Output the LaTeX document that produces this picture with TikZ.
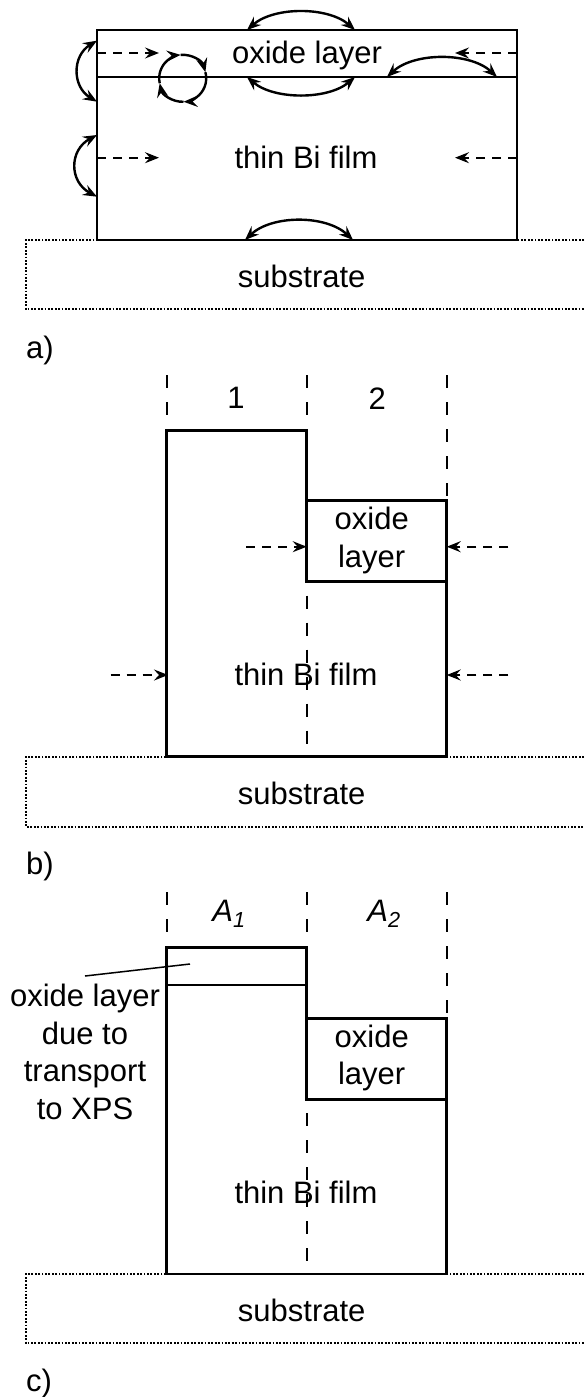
\documentclass[tikz,border=0pt]{standalone}
\usepackage{fontspec}
\setmainfont{Liberation Sans}
\usepackage{tikz}
\usetikzlibrary{calc,arrows.meta}
\definecolor{biink}{HTML}{000000}
\tikzset{
  film/.style={draw=biink, line width=2.6pt},
  guide/.style={draw=biink, line width=2.3pt, dash pattern=on 13pt off 14pt},
  flux/.style={draw=biink, line width=2pt, dash pattern=on 9pt off 7pt,
    -{Stealth[length=14pt, width=11pt, inset=5pt]}},
  hop/.style={draw=biink, line width=2.4pt,
    {Stealth[length=14pt, width=11pt, inset=5pt]}-{Stealth[length=14pt, width=11pt, inset=5pt]}},
  whirl/.style={draw=biink, line width=2.4pt, -{Stealth[length=14pt, width=11pt, inset=5pt]}},
  lbl/.style={text=biink, inner sep=0pt, align=center,
    font=\fontsize{31}{37.7}\selectfont}}
\newcommand{\bisubstrate}[3]{%
  \draw[biink, line width=1.8pt, dash pattern=on 1.8pt off 1.6pt]
    (584,#1) -- (26,#1) -- (26,#2) -- (584,#2);
  \node[lbl] (#3) at (301.7,{(#1+#2)/2+2}) {substrate};}

\begin{document}
\begin{tikzpicture}[x=1pt, y=-1pt]
  \useasboundingbox (0,0) rectangle (584,1397);
  % a)
  \bisubstrate{240}{309.3}{suba}
  \draw[film] (97,30) rectangle (517,240);
  \draw[film] (97,77) -- (517,77);
  \node[lbl] (oxa) at (307,55) {oxide layer};
  \node[lbl] (filma) at (306,157) {thin Bi film};
  \node[lbl, anchor=west] (taga) at (26,350) {a)};
  \foreach \xa/\xb/\yy/\yc in {247/355/30/6.4, 247/355/77/100,
                               387/497/77/52, 245/353/240/214.7}
    {\draw[hop] (\xa,\yy) .. controls (\xa+27,\yc) and (\xb-27,\yc) .. (\xb,\yy);}
  \foreach \ya/\yb/\xc in {40.7/101.7/72, 135/196.7/69}
    {\draw[hop] (97,\ya) .. controls (\xc,\ya+15) and (\xc,\yb-15) .. (97,\yb);}
  \foreach \yy in {53, 157.7}
    {\draw[flux] (97,\yy) -- (159,\yy);
     \draw[flux] (517,\yy) -- (455,\yy);}
  \coordinate (eddy) at (182.7,78.3);
  \foreach \sa/\ea in {-15/88, 88/168, 168/265, 265/345}
    {\draw[whirl] ($(eddy)+(\sa:23.5)$) arc[start angle=\sa, end angle=\ea, radius=23.5];}
  % b)
  \bisubstrate{756.7}{826.7}{subb}
  \draw[guide] (166.7,375) -- (166.7,430.7);
  \draw[guide] (306.7,375) -- (306.7,430.7);
  \draw[guide] (446.7,375) -- (446.7,500.7);
  \draw[guide, dash phase=13pt] (306.7,581.7) -- (306.7,756.7);
  \draw[film] (166.7,756.7) -- (166.7,430.7) -- (306.7,430.7) -- (306.7,581.7)
    -- (446.7,581.7) -- (446.7,756.7) -- cycle;
  \draw[film] (306.7,500.7) -- (446.7,500.7) -- (446.7,581.7);
  \node[lbl] (colb1) at (236,398.3) {1};
  \node[lbl] (colb2) at (377.3,398.3) {2};
  \node[lbl] (oxb) at (371.7,540.5) {oxide\\layer};
  \node[lbl] (filmb) at (306,674) {thin Bi film};
  \node[lbl, anchor=west] (tagb) at (26,866) {b)};
  \foreach \xa/\xb/\yy in {246/306.7/546.7, 508.3/446.7/546.7,
                           110.7/168/675, 508.3/446.7/675}
    {\draw[flux] (\xa,\yy) -- (\xb,\yy);}
  % c)
  \bisubstrate{1274}{1343.3}{subc}
  \draw[guide] (166.7,892) -- (166.7,947.3);
  \draw[guide] (306.7,892) -- (306.7,947.3);
  \draw[guide] (446.7,892) -- (446.7,1018.3);
  \draw[guide, dash phase=13pt] (306.7,1099.3) -- (306.7,1274);
  \draw[film] (166.7,1274) -- (166.7,947.3) -- (306.7,947.3) -- (306.7,1099.3)
    -- (446.7,1099.3) -- (446.7,1274) -- cycle;
  \draw[film] (306.7,1018.3) -- (446.7,1018.3) -- (446.7,1099.3);
  \draw[film] (166.7,985) -- (306.7,985);
  \node[lbl] (colc1) at (229,914) {\textit{A}\textsubscript{\textit{1}}};
  \node[lbl] (colc2) at (384,914) {\textit{A}\textsubscript{\textit{2}}};
  \node[lbl] (oxc) at (371.7,1058) {oxide\\layer};
  \node[lbl] (filmc) at (306,1192.7) {thin Bi film};
  \node[lbl] (xpslbl) at (85,1052) {oxide layer\\due to\\transport\\to XPS};
  \coordinate (leadfoot) at (85,976);
  \coordinate (leadtip) at (190,964);
  \draw[biink, line width=1.5pt] (leadfoot) -- (leadtip);
  \node[lbl, anchor=west] (tagc) at (26,1383) {c)};
\end{tikzpicture}
\end{document}
